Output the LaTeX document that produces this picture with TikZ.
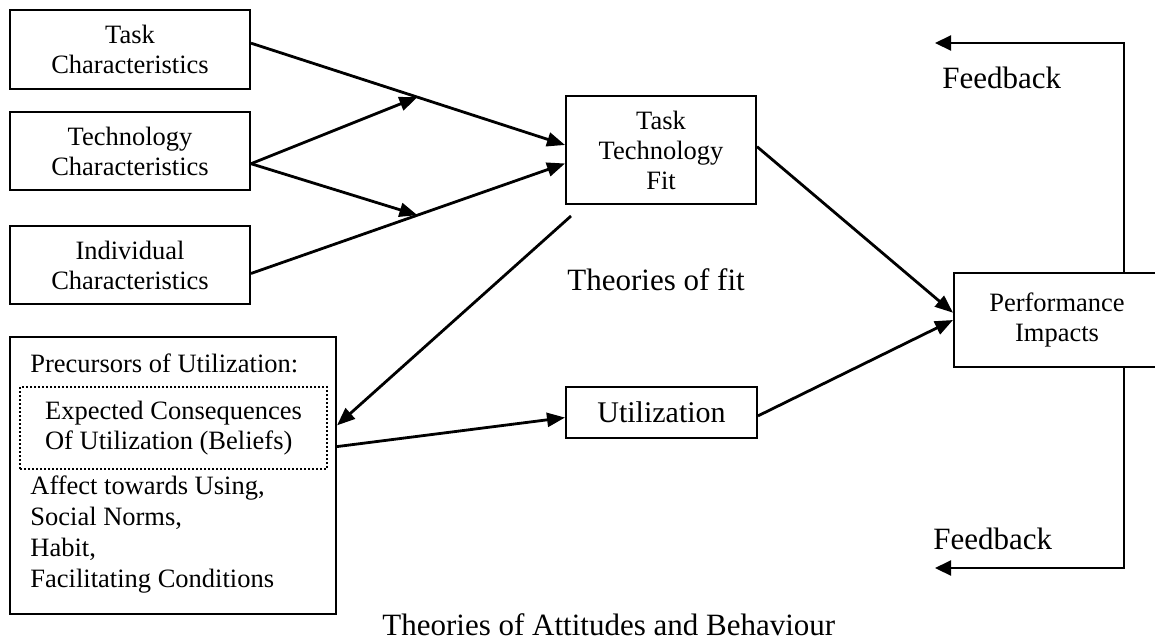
\documentclass[tikz,border=0pt]{standalone}
\usepackage{fontspec}
\setmainfont{Liberation Serif}
\usetikzlibrary{arrows.meta,calc}
\begin{document}
\begin{tikzpicture}[x=0.5pt,y=-0.5pt,
  box/.style={draw,line width=1pt,inner sep=0pt,align=center,font=\fontsize{13.25}{15}\selectfont},
  conn/.style={line width=1.4pt,-{Triangle[length=9pt,width=7pt]}},
  fb/.style={line width=1.1pt,-{Triangle[length=8pt,width=7.5pt]}},
  big/.style={font=\fontsize{15.5}{18}\selectfont,inner sep=0pt,anchor=base west},
  small/.style={font=\fontsize{13.25}{15.5}\selectfont,inner sep=0pt,align=left}]
\clip (0,0) rectangle (1155,643);
% boxes
\node[box,minimum width=120pt,minimum height=39.5pt] (task) at (130,49.5) {Task\\Characteristics};
\node[box,minimum width=120pt,minimum height=39pt] (tech) at (130,151) {Technology\\Characteristics};
\node[box,minimum width=120pt,minimum height=39pt] (ind) at (130,265) {Individual\\Characteristics};
\node[box,minimum width=95pt,minimum height=54pt] (ttf) at (661,150) {Task\\Technology\\Fit};
\node[box,minimum width=103pt,minimum height=47pt] (perf) at (1057,320) {Performance\\Impacts};
\node[box,minimum width=95.5pt,minimum height=25.5pt,font=\fontsize{15}{18}\selectfont] (util) at (661.5,412.5) {Utilization};
\node[box,minimum width=163pt,minimum height=138.5pt] (prec) at (173,475.5) {};
\node[small,anchor=base west] (prect) at (30,372) {Precursors of Utilization:};
\node[draw,line width=1pt,dash pattern=on 1pt off 1pt,inner sep=0pt,align=left,
      font=\fontsize{13.25}{15}\selectfont,minimum width=153.5pt,minimum height=41pt] (bel) at (173.5,428)
      {Expected Consequences\\Of Utilization (Beliefs)};
\node[small,anchor=north west] (rest) at (30,475) {Affect towards Using,\\Social Norms,\\Habit,\\Facilitating Conditions};
% free labels
\node[big] (tof) at (567,290) {Theories of fit};
\node[big] (toa) at (382,635) {Theories of Attitudes and Behaviour};
\node[big] (fbtl) at (942,88) {Feedback};
\node[big] (fbbl) at (933,549) {Feedback};
% connectors
\coordinate (j1) at ($(task.3)!0.53!(ttf.177)$);
\coordinate (j2) at ($(ind.-4)!0.53!(ttf.188)$);
\draw[conn] (task.3) -- (ttf.177);
\draw[conn] (ind.-4) -- (ttf.188);
\draw[conn] (tech.-6) -- (j1);
\draw[conn] (tech.-6) -- (j2);
\draw[conn] ($(ttf.south west)+(6,11)$) -- (prec.17);
\draw[conn] (prec.10) -- (util.183);
\draw[conn] (ttf.2) -- (perf.176);
\draw[conn] (util.-2) -- (perf.180);
\coordinate (fbtend) at (935,43);
\coordinate (fbbend) at (935,568);
\draw[fb] ([xshift=33.5pt]perf.north) |- (fbtend);
\draw[fb] ([xshift=33.5pt]perf.south) |- (fbbend);
\end{tikzpicture}
\end{document}
